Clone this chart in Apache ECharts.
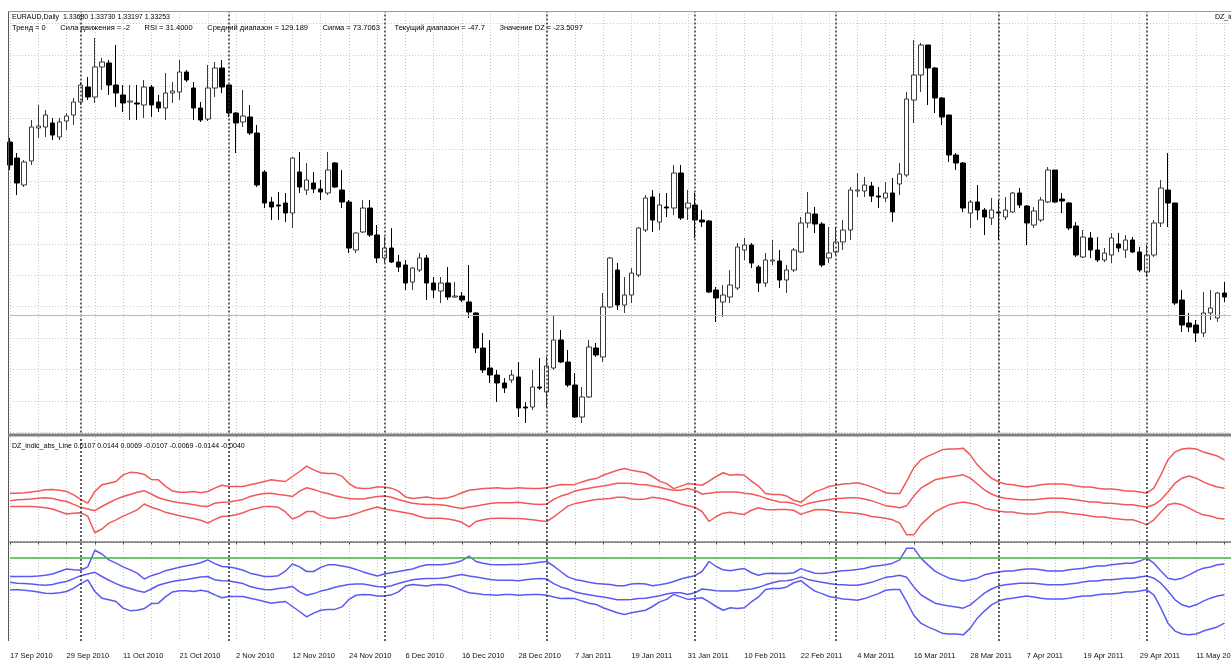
<!DOCTYPE html>
<html>
<head>
<meta charset="utf-8">
<script src="https://cdn.jsdelivr.net/npm/echarts@6/dist/echarts.min.js"></script>
<style>
  html, body { margin: 0; padding: 0; background: #fff; }
  #chart { width: 1231px; height: 664px; }
</style>
</head>
<body>
<div id="chart"></div>
<script>
// EURAUD daily candles
const opens = [
  1.3844, 1.3796, 1.3715, 1.3787, 1.3886, 1.3889, 1.3901, 1.3859, 1.3907, 1.3925,
  1.3964, 1.4009, 1.3979, 1.4069, 1.4081, 1.4015, 1.3985, 1.3964, 1.3961, 1.3955,
  1.4009, 1.3964, 1.3946, 1.3991, 1.3994, 1.4054, 1.4006, 1.3946, 1.3913, 1.4006,
  1.4066, 1.4015, 1.3931, 1.3904, 1.3919, 1.3871, 1.3754, 1.3664, 1.3655, 1.3661,
  1.3631, 1.3754, 1.3700, 1.3721, 1.3703, 1.3691, 1.3781, 1.3700, 1.3664, 1.3520,
  1.3574, 1.3646, 1.3565, 1.3496, 1.3526, 1.3484, 1.3475, 1.3424, 1.3460, 1.3496,
  1.3421, 1.3397, 1.3421, 1.3379, 1.3382, 1.3364, 1.3331, 1.3226, 1.3166, 1.3145,
  1.3121, 1.3130, 1.3139, 1.3049, 1.3049, 1.3109, 1.3094, 1.3166, 1.3250, 1.3184,
  1.3115, 1.3019, 1.3079, 1.3226, 1.3199, 1.3349, 1.3460, 1.3355, 1.3385, 1.3445,
  1.3580, 1.3679, 1.3604, 1.3649, 1.3646, 1.3751, 1.3646, 1.3655, 1.3610, 1.3607,
  1.3400, 1.3364, 1.3379, 1.3406, 1.3520, 1.3535, 1.3469, 1.3421, 1.3487, 1.3487,
  1.3430, 1.3460, 1.3514, 1.3601, 1.3628, 1.3598, 1.3496, 1.3514, 1.3544, 1.3580,
  1.3697, 1.3697, 1.3712, 1.3682, 1.3676, 1.3691, 1.3718, 1.3745, 1.3970, 1.4045,
  1.4135, 1.4066, 1.3976, 1.3925, 1.3805, 1.3781, 1.3631, 1.3664, 1.3640, 1.3616,
  1.3634, 1.3619, 1.3634, 1.3691, 1.3652, 1.3595, 1.3610, 1.3664, 1.3760, 1.3673,
  1.3661, 1.3592, 1.3499, 1.3556, 1.3520, 1.3490, 1.3505, 1.3538, 1.3520, 1.3550,
  1.3514, 1.3454, 1.3505, 1.3601, 1.3700, 1.3661, 1.3370, 1.3301, 1.3295, 1.3271,
  1.3331, 1.3316, 1.3391
];
const highs = [
  1.3856, 1.3811, 1.3790, 1.3910, 1.3955, 1.3940, 1.3916, 1.3916, 1.3931, 1.3976,
  1.4024, 1.4039, 1.4156, 1.4096, 1.4090, 1.4135, 1.4015, 1.4015, 1.4015, 1.4030,
  1.4015, 1.3985, 1.4051, 1.4024, 1.4090, 1.4060, 1.4024, 1.3964, 1.4075, 1.4084,
  1.4090, 1.4015, 1.3934, 1.4000, 1.3955, 1.3895, 1.3760, 1.3679, 1.3694, 1.3691,
  1.3799, 1.3814, 1.3781, 1.3754, 1.3730, 1.3814, 1.3784, 1.3760, 1.3670, 1.3574,
  1.3670, 1.3670, 1.3595, 1.3559, 1.3586, 1.3505, 1.3490, 1.3469, 1.3511, 1.3505,
  1.3439, 1.3439, 1.3469, 1.3424, 1.3394, 1.3475, 1.3334, 1.3271, 1.3250, 1.3160,
  1.3136, 1.3160, 1.3184, 1.3064, 1.3160, 1.3196, 1.3199, 1.3325, 1.3280, 1.3220,
  1.3151, 1.3109, 1.3250, 1.3241, 1.3391, 1.3499, 1.3481, 1.3439, 1.3466, 1.3589,
  1.3685, 1.3700, 1.3691, 1.3691, 1.3775, 1.3775, 1.3700, 1.3691, 1.3640, 1.3610,
  1.3409, 1.3415, 1.3460, 1.3541, 1.3556, 1.3541, 1.3475, 1.3511, 1.3550, 1.3520,
  1.3475, 1.3526, 1.3619, 1.3694, 1.3649, 1.3604, 1.3589, 1.3589, 1.3610, 1.3709,
  1.3751, 1.3739, 1.3724, 1.3709, 1.3724, 1.3736, 1.3781, 1.3994, 1.4150, 1.4141,
  1.4135, 1.4069, 1.3979, 1.3925, 1.3811, 1.3784, 1.3670, 1.3715, 1.3646, 1.3676,
  1.3670, 1.3679, 1.3694, 1.3706, 1.3655, 1.3649, 1.3679, 1.3769, 1.3760, 1.3691,
  1.3664, 1.3604, 1.3580, 1.3574, 1.3559, 1.3526, 1.3571, 1.3571, 1.3565, 1.3559,
  1.3529, 1.3535, 1.3610, 1.3730, 1.3811, 1.3661, 1.3400, 1.3331, 1.3310, 1.3394,
  1.3400, 1.3394, 1.3424
];
const lows = [
  1.3760, 1.3685, 1.3709, 1.3775, 1.3856, 1.3859, 1.3850, 1.3850, 1.3880, 1.3895,
  1.3955, 1.3970, 1.3961, 1.4000, 1.3985, 1.3949, 1.3934, 1.3910, 1.3910, 1.3916,
  1.3919, 1.3934, 1.3910, 1.3961, 1.3970, 1.4024, 1.3910, 1.3904, 1.3907, 1.3979,
  1.3991, 1.3919, 1.3811, 1.3889, 1.3865, 1.3709, 1.3646, 1.3610, 1.3610, 1.3604,
  1.3586, 1.3691, 1.3685, 1.3691, 1.3670, 1.3685, 1.3706, 1.3646, 1.3511, 1.3511,
  1.3571, 1.3559, 1.3481, 1.3481, 1.3481, 1.3454, 1.3400, 1.3400, 1.3454, 1.3370,
  1.3376, 1.3361, 1.3370, 1.3376, 1.3364, 1.3316, 1.3211, 1.3151, 1.3121, 1.3064,
  1.3091, 1.3121, 1.3019, 1.3001, 1.3040, 1.3100, 1.3049, 1.3160, 1.3181, 1.3109,
  1.3016, 1.3001, 1.3076, 1.3199, 1.3184, 1.3346, 1.3340, 1.3331, 1.3361, 1.3439,
  1.3574, 1.3574, 1.3580, 1.3619, 1.3625, 1.3610, 1.3610, 1.3556, 1.3589, 1.3391,
  1.3304, 1.3319, 1.3361, 1.3400, 1.3490, 1.3466, 1.3394, 1.3409, 1.3475, 1.3406,
  1.3391, 1.3454, 1.3511, 1.3586, 1.3571, 1.3469, 1.3481, 1.3505, 1.3520, 1.3550,
  1.3679, 1.3679, 1.3664, 1.3646, 1.3664, 1.3604, 1.3685, 1.3739, 1.3901, 1.3994,
  1.3955, 1.3931, 1.3895, 1.3784, 1.3760, 1.3634, 1.3586, 1.3610, 1.3565, 1.3595,
  1.3550, 1.3610, 1.3631, 1.3646, 1.3535, 1.3586, 1.3604, 1.3661, 1.3661, 1.3631,
  1.3580, 1.3499, 1.3496, 1.3496, 1.3484, 1.3484, 1.3481, 1.3514, 1.3496, 1.3511,
  1.3454, 1.3439, 1.3499, 1.3589, 1.3589, 1.3355, 1.3274, 1.3274, 1.3244, 1.3259,
  1.3310, 1.3304, 1.3364
];
const closes = [
  1.3775, 1.3721, 1.3784, 1.3889, 1.3892, 1.3925, 1.3865, 1.3904, 1.3922, 1.3964,
  1.4015, 1.3979, 1.4069, 1.4084, 1.4015, 1.3991, 1.3961, 1.3967, 1.3958, 1.4009,
  1.3955, 1.3946, 1.3991, 1.3997, 1.4054, 1.4030, 1.3946, 1.3910, 1.4006, 1.4066,
  1.4009, 1.3931, 1.3901, 1.3922, 1.3871, 1.3715, 1.3661, 1.3649, 1.3652, 1.3631,
  1.3796, 1.3709, 1.3730, 1.3703, 1.3694, 1.3760, 1.3709, 1.3664, 1.3526, 1.3571,
  1.3646, 1.3565, 1.3496, 1.3526, 1.3484, 1.3469, 1.3421, 1.3466, 1.3496, 1.3421,
  1.3400, 1.3421, 1.3379, 1.3382, 1.3370, 1.3334, 1.3226, 1.3160, 1.3145, 1.3121,
  1.3106, 1.3145, 1.3046, 1.3046, 1.3109, 1.3106, 1.3172, 1.3250, 1.3184, 1.3115,
  1.3019, 1.3079, 1.3229, 1.3205, 1.3349, 1.3496, 1.3355, 1.3385, 1.3451, 1.3586,
  1.3676, 1.3610, 1.3655, 1.3646, 1.3751, 1.3616, 1.3661, 1.3610, 1.3604, 1.3394,
  1.3376, 1.3385, 1.3415, 1.3529, 1.3535, 1.3481, 1.3421, 1.3490, 1.3490, 1.3430,
  1.3460, 1.3520, 1.3601, 1.3631, 1.3598, 1.3475, 1.3511, 1.3544, 1.3580, 1.3700,
  1.3700, 1.3715, 1.3682, 1.3679, 1.3691, 1.3634, 1.3748, 1.3973, 1.4045, 1.4135,
  1.4066, 1.3976, 1.3919, 1.3805, 1.3781, 1.3646, 1.3664, 1.3640, 1.3619, 1.3640,
  1.3631, 1.3640, 1.3691, 1.3655, 1.3601, 1.3637, 1.3670, 1.3760, 1.3664, 1.3667,
  1.3586, 1.3505, 1.3559, 1.3520, 1.3490, 1.3511, 1.3556, 1.3526, 1.3550, 1.3514,
  1.3460, 1.3505, 1.3601, 1.3706, 1.3661, 1.3361, 1.3295, 1.3289, 1.3271, 1.3331,
  1.3346, 1.3391, 1.3379
];

// DZ_indic_abs_Line buffers (upper red band, lower blue band)
const redUpper = [
  0.0116, 0.0116, 0.0117, 0.0119, 0.0121, 0.0124, 0.0125, 0.0123, 0.0120, 0.0112,
  0.0101, 0.0092, 0.0120, 0.0136, 0.0140, 0.0144, 0.0160, 0.0166, 0.0165, 0.0161,
  0.0149, 0.0148, 0.0133, 0.0121, 0.0118, 0.0118, 0.0120, 0.0117, 0.0120, 0.0128,
  0.0135, 0.0132, 0.0132, 0.0132, 0.0136, 0.0140, 0.0144, 0.0148, 0.0146, 0.0144,
  0.0156, 0.0168, 0.0181, 0.0172, 0.0165, 0.0163, 0.0163, 0.0157, 0.0139, 0.0129,
  0.0127, 0.0128, 0.0131, 0.0131, 0.0128, 0.0121, 0.0107, 0.0103, 0.0105, 0.0107,
  0.0104, 0.0103, 0.0105, 0.0110, 0.0117, 0.0123, 0.0125, 0.0127, 0.0128, 0.0129,
  0.0127, 0.0127, 0.0129, 0.0128, 0.0127, 0.0127, 0.0129, 0.0133, 0.0137, 0.0136,
  0.0137, 0.0143, 0.0148, 0.0151, 0.0159, 0.0165, 0.0171, 0.0175, 0.0171, 0.0168,
  0.0165, 0.0156, 0.0145, 0.0139, 0.0127, 0.0133, 0.0139, 0.0137, 0.0135, 0.0145,
  0.0156, 0.0165, 0.0159, 0.0161, 0.0159, 0.0145, 0.0133, 0.0115, 0.0113, 0.0113,
  0.0109, 0.0099, 0.0094, 0.0107, 0.0119, 0.0125, 0.0132, 0.0135, 0.0138, 0.0139,
  0.0141, 0.0137, 0.0131, 0.0125, 0.0117, 0.0115, 0.0115, 0.0145, 0.0177, 0.0196,
  0.0205, 0.0212, 0.0220, 0.0222, 0.0222, 0.0224, 0.0208, 0.0184, 0.0167, 0.0152,
  0.0143, 0.0138, 0.0136, 0.0133, 0.0131, 0.0133, 0.0136, 0.0138, 0.0138, 0.0138,
  0.0136, 0.0133, 0.0131, 0.0131, 0.0128, 0.0126, 0.0126, 0.0124, 0.0121, 0.0121,
  0.0119, 0.0116, 0.0128, 0.0160, 0.0196, 0.0215, 0.0222, 0.0224, 0.0222, 0.0215,
  0.0210, 0.0205, 0.0196
];
const redMiddle = [
  0.0098, 0.0100, 0.0101, 0.0102, 0.0104, 0.0105, 0.0103, 0.0099, 0.0096, 0.0089,
  0.0082, 0.0078, 0.0074, 0.0084, 0.0093, 0.0101, 0.0108, 0.0113, 0.0118, 0.0122,
  0.0114, 0.0105, 0.0100, 0.0096, 0.0093, 0.0091, 0.0088, 0.0085, 0.0084, 0.0092,
  0.0094, 0.0095, 0.0098, 0.0101, 0.0108, 0.0112, 0.0115, 0.0116, 0.0113, 0.0111,
  0.0108, 0.0121, 0.0129, 0.0125, 0.0119, 0.0115, 0.0110, 0.0106, 0.0103, 0.0102,
  0.0102, 0.0105, 0.0108, 0.0109, 0.0106, 0.0101, 0.0096, 0.0092, 0.0090, 0.0089,
  0.0089, 0.0088, 0.0086, 0.0082, 0.0079, 0.0083, 0.0085, 0.0088, 0.0091, 0.0093,
  0.0093, 0.0093, 0.0094, 0.0092, 0.0090, 0.0089, 0.0090, 0.0101, 0.0109, 0.0114,
  0.0121, 0.0125, 0.0128, 0.0131, 0.0133, 0.0136, 0.0140, 0.0140, 0.0139, 0.0137,
  0.0136, 0.0133, 0.0130, 0.0126, 0.0123, 0.0123, 0.0127, 0.0123, 0.0114, 0.0116,
  0.0118, 0.0119, 0.0119, 0.0119, 0.0116, 0.0114, 0.0110, 0.0104, 0.0099, 0.0095,
  0.0094, 0.0091, 0.0085, 0.0091, 0.0095, 0.0098, 0.0101, 0.0103, 0.0104, 0.0105,
  0.0105, 0.0102, 0.0098, 0.0092, 0.0086, 0.0084, 0.0081, 0.0086, 0.0109, 0.0128,
  0.0138, 0.0148, 0.0152, 0.0155, 0.0157, 0.0160, 0.0152, 0.0138, 0.0124, 0.0114,
  0.0107, 0.0104, 0.0102, 0.0100, 0.0100, 0.0100, 0.0102, 0.0104, 0.0104, 0.0104,
  0.0102, 0.0100, 0.0097, 0.0095, 0.0095, 0.0092, 0.0092, 0.0090, 0.0088, 0.0088,
  0.0085, 0.0083, 0.0088, 0.0100, 0.0119, 0.0140, 0.0152, 0.0157, 0.0152, 0.0143,
  0.0136, 0.0131, 0.0128
];
const redLower = [
  0.0084, 0.0084, 0.0084, 0.0084, 0.0083, 0.0081, 0.0078, 0.0072, 0.0066, 0.0068,
  0.0069, 0.0061, 0.0021, 0.0030, 0.0044, 0.0052, 0.0061, 0.0068, 0.0076, 0.0090,
  0.0082, 0.0077, 0.0070, 0.0066, 0.0062, 0.0058, 0.0055, 0.0051, 0.0044, 0.0053,
  0.0060, 0.0061, 0.0064, 0.0069, 0.0076, 0.0080, 0.0084, 0.0084, 0.0082, 0.0071,
  0.0054, 0.0061, 0.0072, 0.0072, 0.0062, 0.0056, 0.0056, 0.0059, 0.0062, 0.0067,
  0.0073, 0.0078, 0.0083, 0.0078, 0.0075, 0.0072, 0.0069, 0.0066, 0.0060, 0.0056,
  0.0056, 0.0056, 0.0054, 0.0051, 0.0046, 0.0035, 0.0048, 0.0052, 0.0055, 0.0056,
  0.0056, 0.0055, 0.0055, 0.0054, 0.0052, 0.0050, 0.0048, 0.0059, 0.0072, 0.0085,
  0.0091, 0.0094, 0.0098, 0.0101, 0.0102, 0.0103, 0.0106, 0.0106, 0.0102, 0.0101,
  0.0102, 0.0106, 0.0104, 0.0101, 0.0096, 0.0090, 0.0086, 0.0082, 0.0072, 0.0048,
  0.0060, 0.0068, 0.0070, 0.0067, 0.0065, 0.0075, 0.0081, 0.0077, 0.0076, 0.0077,
  0.0077, 0.0075, 0.0065, 0.0071, 0.0076, 0.0077, 0.0075, 0.0072, 0.0070, 0.0069,
  0.0067, 0.0065, 0.0060, 0.0058, 0.0056, 0.0052, 0.0044, 0.0016, 0.0016, 0.0040,
  0.0056, 0.0071, 0.0080, 0.0088, 0.0092, 0.0095, 0.0092, 0.0088, 0.0080, 0.0076,
  0.0073, 0.0071, 0.0071, 0.0068, 0.0066, 0.0066, 0.0068, 0.0071, 0.0071, 0.0071,
  0.0068, 0.0066, 0.0064, 0.0061, 0.0059, 0.0059, 0.0056, 0.0054, 0.0052, 0.0052,
  0.0047, 0.0040, 0.0052, 0.0071, 0.0088, 0.0092, 0.0088, 0.0080, 0.0071, 0.0064,
  0.0061, 0.0056, 0.0054
];
const blueUpper = [
  -0.0084, -0.0084, -0.0084, -0.0084, -0.0083, -0.0081, -0.0078, -0.0072, -0.0066, -0.0068,
  -0.0069, -0.0061, -0.0021, -0.0030, -0.0044, -0.0052, -0.0061, -0.0068, -0.0076, -0.0090,
  -0.0082, -0.0077, -0.0070, -0.0066, -0.0062, -0.0058, -0.0055, -0.0051, -0.0044, -0.0053,
  -0.0060, -0.0061, -0.0064, -0.0069, -0.0076, -0.0080, -0.0084, -0.0084, -0.0082, -0.0071,
  -0.0054, -0.0061, -0.0072, -0.0072, -0.0062, -0.0056, -0.0056, -0.0059, -0.0062, -0.0067,
  -0.0073, -0.0078, -0.0083, -0.0078, -0.0075, -0.0072, -0.0069, -0.0066, -0.0060, -0.0056,
  -0.0056, -0.0056, -0.0054, -0.0051, -0.0046, -0.0035, -0.0048, -0.0052, -0.0055, -0.0056,
  -0.0056, -0.0055, -0.0055, -0.0054, -0.0052, -0.0050, -0.0048, -0.0059, -0.0072, -0.0085,
  -0.0091, -0.0094, -0.0098, -0.0101, -0.0102, -0.0103, -0.0106, -0.0106, -0.0102, -0.0101,
  -0.0102, -0.0106, -0.0104, -0.0101, -0.0096, -0.0090, -0.0086, -0.0082, -0.0072, -0.0048,
  -0.0060, -0.0068, -0.0070, -0.0067, -0.0065, -0.0075, -0.0081, -0.0077, -0.0076, -0.0077,
  -0.0077, -0.0075, -0.0065, -0.0071, -0.0076, -0.0077, -0.0075, -0.0072, -0.0070, -0.0069,
  -0.0067, -0.0065, -0.0060, -0.0058, -0.0056, -0.0052, -0.0044, -0.0016, -0.0016, -0.0040,
  -0.0056, -0.0071, -0.0080, -0.0088, -0.0092, -0.0095, -0.0092, -0.0088, -0.0080, -0.0076,
  -0.0073, -0.0071, -0.0071, -0.0068, -0.0066, -0.0066, -0.0068, -0.0071, -0.0071, -0.0071,
  -0.0068, -0.0066, -0.0064, -0.0061, -0.0059, -0.0059, -0.0056, -0.0054, -0.0052, -0.0052,
  -0.0047, -0.0040, -0.0052, -0.0071, -0.0088, -0.0092, -0.0088, -0.0080, -0.0071, -0.0064,
  -0.0061, -0.0056, -0.0054
];
const blueMiddle = [
  -0.0098, -0.0100, -0.0101, -0.0102, -0.0104, -0.0105, -0.0103, -0.0099, -0.0096, -0.0089,
  -0.0082, -0.0078, -0.0074, -0.0084, -0.0093, -0.0101, -0.0108, -0.0113, -0.0118, -0.0122,
  -0.0114, -0.0105, -0.0100, -0.0096, -0.0093, -0.0091, -0.0088, -0.0085, -0.0084, -0.0092,
  -0.0094, -0.0095, -0.0098, -0.0101, -0.0108, -0.0112, -0.0115, -0.0116, -0.0113, -0.0111,
  -0.0108, -0.0121, -0.0129, -0.0125, -0.0119, -0.0115, -0.0110, -0.0106, -0.0103, -0.0102,
  -0.0102, -0.0105, -0.0108, -0.0109, -0.0106, -0.0101, -0.0096, -0.0092, -0.0090, -0.0089,
  -0.0089, -0.0088, -0.0086, -0.0082, -0.0079, -0.0083, -0.0085, -0.0088, -0.0091, -0.0093,
  -0.0093, -0.0093, -0.0094, -0.0092, -0.0090, -0.0089, -0.0090, -0.0101, -0.0109, -0.0114,
  -0.0121, -0.0125, -0.0128, -0.0131, -0.0133, -0.0136, -0.0140, -0.0140, -0.0139, -0.0137,
  -0.0136, -0.0133, -0.0130, -0.0126, -0.0123, -0.0123, -0.0127, -0.0123, -0.0114, -0.0116,
  -0.0118, -0.0119, -0.0119, -0.0119, -0.0116, -0.0114, -0.0110, -0.0104, -0.0099, -0.0095,
  -0.0094, -0.0091, -0.0085, -0.0091, -0.0095, -0.0098, -0.0101, -0.0103, -0.0104, -0.0105,
  -0.0105, -0.0102, -0.0098, -0.0092, -0.0086, -0.0084, -0.0081, -0.0086, -0.0109, -0.0128,
  -0.0138, -0.0148, -0.0152, -0.0155, -0.0157, -0.0160, -0.0152, -0.0138, -0.0124, -0.0114,
  -0.0107, -0.0104, -0.0102, -0.0100, -0.0100, -0.0100, -0.0102, -0.0104, -0.0104, -0.0104,
  -0.0102, -0.0100, -0.0097, -0.0095, -0.0095, -0.0092, -0.0092, -0.0090, -0.0088, -0.0088,
  -0.0085, -0.0083, -0.0088, -0.0100, -0.0119, -0.0140, -0.0152, -0.0157, -0.0152, -0.0143,
  -0.0136, -0.0131, -0.0128
];
const blueLower = [
  -0.0116, -0.0116, -0.0117, -0.0119, -0.0121, -0.0124, -0.0125, -0.0123, -0.0120, -0.0112,
  -0.0101, -0.0092, -0.0120, -0.0136, -0.0140, -0.0144, -0.0160, -0.0166, -0.0165, -0.0161,
  -0.0149, -0.0148, -0.0133, -0.0121, -0.0118, -0.0118, -0.0120, -0.0117, -0.0120, -0.0128,
  -0.0135, -0.0132, -0.0132, -0.0132, -0.0136, -0.0140, -0.0144, -0.0148, -0.0146, -0.0144,
  -0.0156, -0.0168, -0.0181, -0.0172, -0.0165, -0.0163, -0.0163, -0.0157, -0.0139, -0.0129,
  -0.0127, -0.0128, -0.0131, -0.0131, -0.0128, -0.0121, -0.0107, -0.0103, -0.0105, -0.0107,
  -0.0104, -0.0103, -0.0105, -0.0110, -0.0117, -0.0123, -0.0125, -0.0127, -0.0128, -0.0129,
  -0.0127, -0.0127, -0.0129, -0.0128, -0.0127, -0.0127, -0.0129, -0.0133, -0.0137, -0.0136,
  -0.0137, -0.0143, -0.0148, -0.0151, -0.0159, -0.0165, -0.0171, -0.0175, -0.0171, -0.0168,
  -0.0165, -0.0156, -0.0145, -0.0139, -0.0127, -0.0133, -0.0139, -0.0137, -0.0135, -0.0145,
  -0.0156, -0.0165, -0.0159, -0.0161, -0.0159, -0.0145, -0.0133, -0.0115, -0.0113, -0.0113,
  -0.0109, -0.0099, -0.0094, -0.0107, -0.0119, -0.0125, -0.0132, -0.0135, -0.0138, -0.0139,
  -0.0141, -0.0137, -0.0131, -0.0125, -0.0117, -0.0115, -0.0115, -0.0145, -0.0177, -0.0196,
  -0.0205, -0.0212, -0.0220, -0.0222, -0.0222, -0.0224, -0.0208, -0.0184, -0.0167, -0.0152,
  -0.0143, -0.0138, -0.0136, -0.0133, -0.0131, -0.0133, -0.0136, -0.0138, -0.0138, -0.0138,
  -0.0136, -0.0133, -0.0131, -0.0131, -0.0128, -0.0126, -0.0126, -0.0124, -0.0121, -0.0121,
  -0.0119, -0.0116, -0.0128, -0.0160, -0.0196, -0.0215, -0.0222, -0.0224, -0.0222, -0.0215,
  -0.0210, -0.0205, -0.0196
];

const bidPrice = 1.33253;
const dzLevel = -0.0040;
const headerQuote = 'EURAUD,Daily  1.33680 1.33730 1.33197 1.33253';
const headerStats = [
  'Тренд = 0', 'Сила движения = -2', 'RSI = 31.4000', 'Средний диапазон = 129.189',
  'Сигма = 73.7063', 'Текущий диапазон = -47.7', 'Значение DZ = -23.5097'
];
const indicatorTitle = 'DZ_indic_abs_Line 0.0107 0.0144 0.0069 -0.0107 -0.0069 -0.0144 -0.0040';

// trading days from 17 Sep 2010 (one spare slot at the right edge)
const MONTHS = ['Jan', 'Feb', 'Mar', 'Apr', 'May', 'Jun', 'Jul', 'Aug', 'Sep', 'Oct', 'Nov', 'Dec'];
const days = [];
for (let d = new Date(2010, 8, 17); days.length < opens.length + 1; d.setDate(d.getDate() + 1)) {
  if (d.getDay() !== 0 && d.getDay() !== 6) days.push(new Date(d));
}
const dates = days.map(d => d.getDate() + ' ' + MONTHS[d.getMonth()] + ' ' + d.getFullYear());
const monthStarts = [];
days.forEach((d, i) => { if (i > 0 && d.getMonth() !== days[i - 1].getMonth()) monthStarts.push(i); });

const candles = dates.map((_, i) => i < opens.length ? [opens[i], closes[i], lows[i], highs[i]] : '-');

const FONT = 'Liberation Sans';
const gridDots = { color: '#c6c6c6', type: [1, 2], width: 1 };
const sepStyle = { color: '#303030', type: [2, 2], width: 1.5 };
const sepData = monthStarts.map(i => ({ xAxis: i }));

const chart = echarts.init(document.getElementById('chart'));

const bandLine = (name, data, color) => ({
  name, type: 'line', xAxisIndex: 1, yAxisIndex: 1, data,
  symbol: 'none', silent: true, lineStyle: { color, width: 1.5 }
});

const label = (text, x, y, size) => ({
  type: 'text', z: 60,
  style: { text, x, y, fontSize: size || 7, fontFamily: FONT, fill: '#000', verticalAlign: 'middle' }
});

chart.setOption({
  animation: false,
  backgroundColor: '#fff',
  grid: [
    { left: 10.1, top: 11, width: 1221.4, height: 421.5, outerBoundsMode: 'none' },
    { left: 10.1, top: 437, width: 1221.4, height: 204, outerBoundsMode: 'none' }
  ],
  xAxis: [
    {
      type: 'category', gridIndex: 0, data: dates, boundaryGap: false,
      axisLine: { show: false }, axisTick: { show: false }, axisLabel: { show: false },
      splitLine: { show: true, interval: 3, lineStyle: gridDots }
    },
    {
      type: 'category', gridIndex: 1, data: dates, boundaryGap: false,
      axisLine: { show: true, lineStyle: { color: '#8a8a8a', width: 2 } },
      axisTick: { show: true, interval: 3, length: 3, lineStyle: { color: '#555' } },
      axisLabel: { interval: 7, align: 'left', margin: 11, fontSize: 7.5, fontFamily: FONT, color: '#111' },
      splitLine: { show: true, interval: 3, lineStyle: gridDots }
    }
  ],
  yAxis: [
    {
      type: 'value', gridIndex: 0, min: 1.29725, max: 1.4237, interval: 0.009435,
      axisLine: { show: false }, axisTick: { show: false }, axisLabel: { show: false },
      splitLine: { show: true, lineStyle: gridDots }
    },
    {
      type: 'value', gridIndex: 1, min: -0.02388, max: 0.02508,
      axisLine: { show: false }, axisTick: { show: false }, axisLabel: { show: false },
      splitLine: { show: false }
    }
  ],
  series: [
    {
      name: 'EURAUD', type: 'candlestick', xAxisIndex: 0, yAxisIndex: 0,
      data: candles, barWidth: 5, clip: false, silent: true,
      itemStyle: { color: '#ffffff', color0: '#000000', borderColor: '#3a3a3a', borderColor0: '#000000', borderWidth: 1 },
      markLine: {
        silent: true, symbol: 'none', precision: 6, label: { show: false },
        lineStyle: sepStyle,
        data: [
          ...sepData,
          { yAxis: bidPrice, lineStyle: { color: '#b8b8b8', type: 'solid', width: 1 } }
        ]
      }
    },
    bandLine('red upper', redUpper, '#f25858'),
    bandLine('red middle', redMiddle, '#f25858'),
    bandLine('red lower', redLower, '#f25858'),
    Object.assign(bandLine('blue upper', blueUpper, '#5a5af2'), {
      markLine: {
        silent: true, symbol: 'none', precision: 6, label: { show: false },
        lineStyle: sepStyle,
        data: [
          ...sepData,
          { yAxis: 0, lineStyle: { color: '#c6c6c6', type: [1, 2], width: 1 } },
          { yAxis: dzLevel, lineStyle: { color: '#3cb43c', type: 'solid', width: 1.5 } }
        ]
      }
    }),
    bandLine('blue middle', blueMiddle, '#5a5af2'),
    bandLine('blue lower', blueLower, '#5a5af2')
  ],
  graphic: [
    { type: 'line', z: 50, shape: { x1: 8.5, y1: 11, x2: 8.5, y2: 641 }, style: { stroke: '#555', lineWidth: 1 } },
    { type: 'line', z: 50, shape: { x1: 8, y1: 11.5, x2: 1231, y2: 11.5 }, style: { stroke: '#9a9a9a', lineWidth: 1 } },
    { type: 'line', z: 50, shape: { x1: 8, y1: 435, x2: 1231, y2: 435 }, style: { stroke: '#808080', lineWidth: 3 } },
    label(headerQuote, 12, 17),
    label(headerStats.join('       '), 12, 28, 7.5),
    label('DZ_indic', 1215, 17),
    label(indicatorTitle, 12, 446)
  ]
});
</script>
</body>
</html>
